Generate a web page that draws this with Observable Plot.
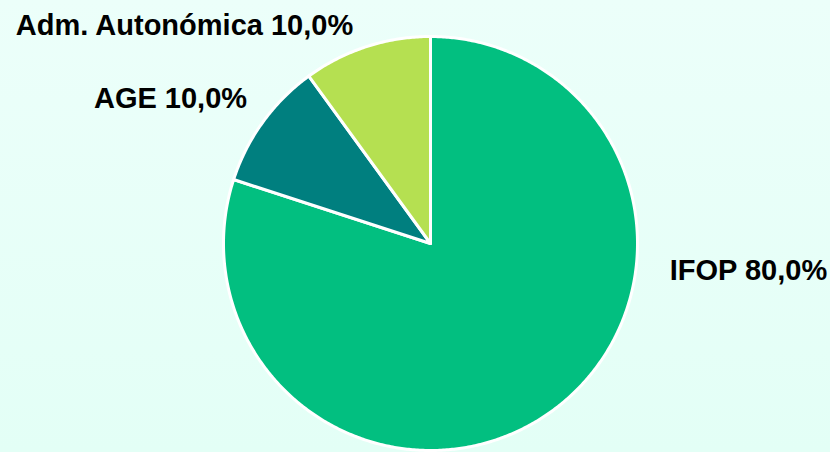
<!DOCTYPE html>
<html>
<head>
<meta charset="utf-8">
<script src="https://cdn.jsdelivr.net/npm/d3@7"></script>
<script src="https://cdn.jsdelivr.net/npm/@observablehq/plot@0.6"></script>
<style>
  html, body { margin: 0; padding: 0; }
  body { width: 830px; height: 452px; overflow: hidden;
         background: linear-gradient(#ecfffa, #e3fff6); }
  svg { background: transparent !important; display: block; }
</style>
</head>
<body>
<div id="chart"></div>
<script>
// Data
const categories = ["IFOP", "AGE", "Adm. Autonómica"];
const shares = [80.0, 10.0, 10.0];
const colors = ["#02bf80", "#007f7f", "#b5e051"];

// Layout (chart units, 1 unit = 1 px; pie centered at origin)
const W = 830, H = 452;
const CX = 430, CY = 243, R = 207;
const labelPos = [[318, -27], [-260, 145], [-246, 218]];

const fmt = v => v.toFixed(1).replace(".", ",") + "%";

const pie = d3.pie().sort(null).value(d => d.value)(
  categories.map((c, i) => ({ name: c, value: shares[i] }))
);

const slicePts = [];
pie.forEach(p => {
  const name = p.data.name;
  slicePts.push({ name, x: 0, y: 0 });
  const steps = Math.max(4, Math.ceil((p.endAngle - p.startAngle) / (Math.PI / 360)));
  for (let k = 0; k <= steps; k++) {
    const a = p.startAngle + (p.endAngle - p.startAngle) * k / steps;
    slicePts.push({ name, x: R * Math.sin(a), y: R * Math.cos(a) });
  }
  slicePts.push({ name, x: 0, y: 0 });
});

const labels = categories.map((c, i) => ({
  text: `${c} ${fmt(shares[i])}`,
  x: labelPos[i][0], y: labelPos[i][1]
}));

const plot = Plot.plot({
  width: W, height: H,
  margin: 0,
  style: { background: "transparent" },
  x: { domain: [-CX, W - CX], axis: null },
  y: { domain: [-(H - CY), CY], axis: null },
  color: { domain: categories, range: colors },
  marks: [
    Plot.line(slicePts, {
      x: "x", y: "y", z: "name", fill: "name",
      stroke: "white", strokeWidth: 3, strokeLinejoin: "round", curve: "linear"
    }),
    Plot.text(labels, {
      x: "x", y: "y", text: "text",
      fontSize: 29, fontWeight: "bold",
      fontFamily: "Liberation Sans, Arial, sans-serif",
      fill: "#000", textAnchor: "middle", lineAnchor: "middle"
    })
  ]
});
document.getElementById("chart").appendChild(plot);
</script>
</body>
</html>
